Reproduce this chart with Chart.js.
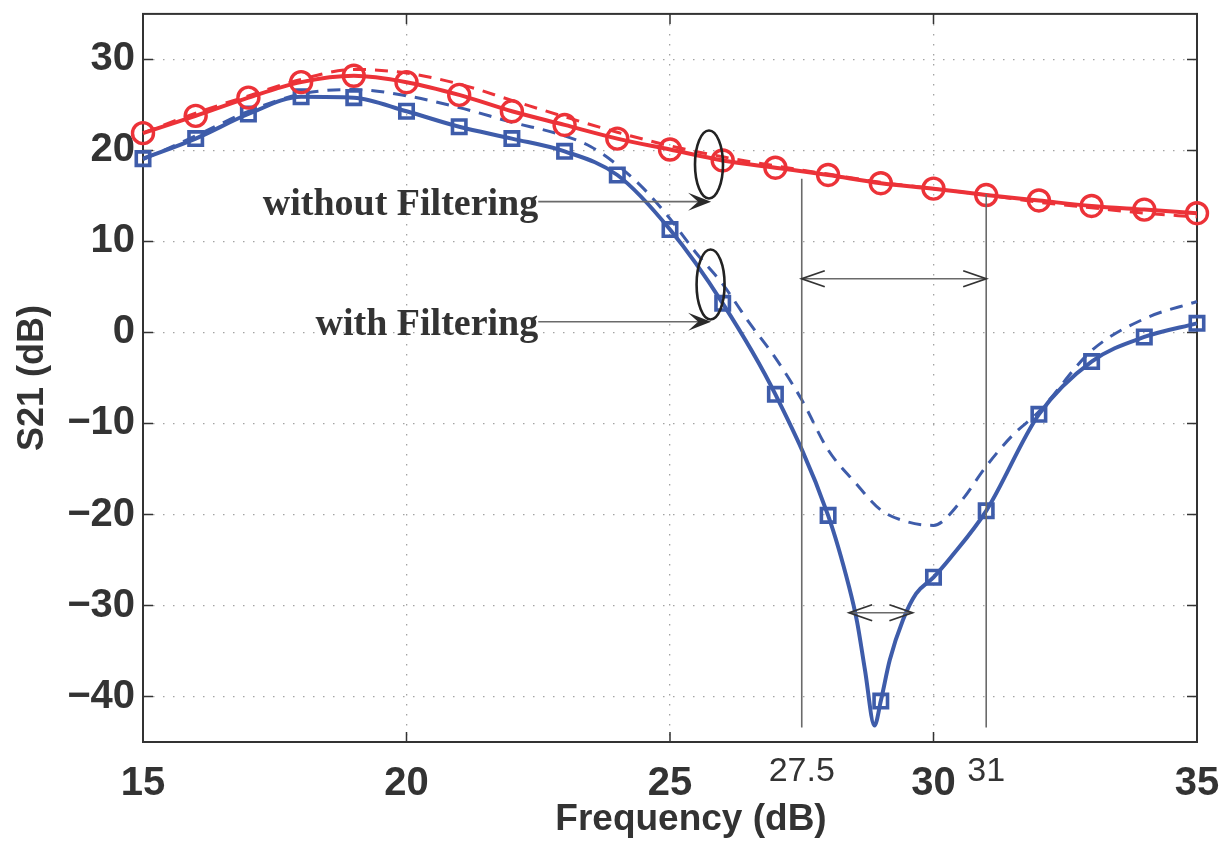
<!DOCTYPE html>
<html>
<head>
<meta charset="utf-8">
<title>S21 vs frequency</title>
<script src="https://cdn.jsdelivr.net/npm/chart.js@4.4.1/dist/chart.umd.min.js"></script>
<style>
  html, body { margin: 0; padding: 0; background: #fff; }
</style>
</head>
<body>
<canvas id="s21Chart" width="1224" height="845"></canvas>
<script>
// measured S21 (dB), one point per GHz -> these carry the markers
var freq = [15, 16, 17, 18, 19, 20, 21, 22, 23, 24, 25, 26, 27, 28, 29, 30, 31, 32, 33, 34, 35];
var s21With = [19.1, 21.3, 24.0, 25.9, 25.8, 24.3, 22.6, 21.3, 19.9, 17.3, 11.3, 3.2, -6.8, -20.1, -40.5, -26.9, -19.6, -9.0, -3.2, -0.5, 1.0];
var s21Without = [21.9, 23.8, 25.8, 27.5, 28.2, 27.5, 26.1, 24.3, 22.8, 21.3, 20.1, 18.9, 18.1, 17.3, 16.4, 15.8, 15.1, 14.5, 13.9, 13.5, 13.1];

// extra measured points around the notch (solid blue curve only)
var notchFreq = [28.4, 28.55, 28.7, 28.88, 29.17, 29.42, 29.67, 30.33];
var notchS21 = [-28.0, -31.8, -37.1, -43.2, -36.0, -31.6, -28.7, -24.7];

// simulated curves (dashed)
var simFreqWith = [15, 16, 17, 18, 19, 20, 21, 22, 23, 23.5, 24, 24.5, 25, 25.5, 26, 26.5, 27, 27.5, 28, 28.5, 29, 29.5, 30, 30.5, 31, 31.5, 32, 33, 34, 35];
var simWith = [19.0, 21.6, 24.3, 26.2, 26.7, 26.0, 24.7, 23.1, 21.6, 20.4, 18.4, 15.8, 12.5, 8.7, 5.3, 1.1, -2.8, -7.4, -12.9, -16.4, -19.5, -20.8, -21.2, -18.7, -14.7, -11.3, -8.7, -2.0, 1.5, 3.4];
var simWithout = [21.9, 24.1, 26.0, 27.8, 28.9, 28.5, 27.3, 25.5, 23.7, 22.0, 20.5, 19.3, 18.3, 17.4, 16.5, 15.8, 15.1, 14.3, 13.7, 13.1, 12.7];

// axis ticks
var xTicks = [15, 20, 25, 30, 35];
var yTicks = [-40, -30, -20, -10, 0, 10, 20, 30];

// bandwidth markers on the x axis
var bandEdges = [27.5, 31];
var bandLabels = ['27.5', '31'];

var RED = '#ec3238';
var BLUE = '#3e5caa';
var INK = '#333333';

function pts(xs, ys) {
  return xs.map(function (x, i) { return { x: x, y: ys[i] }; });
}

// solid blue = integer points + notch points, sorted by frequency
var withCurve = pts(freq, s21With).concat(pts(notchFreq, notchS21)).sort(function (a, b) { return a.x - b.x; });

var frame = {
  id: 'frame',
  beforeDatasetsDraw: function (chart) {
    var ctx = chart.ctx, a = chart.chartArea, x = chart.scales.x, y = chart.scales.y;
    ctx.save();
    ctx.strokeStyle = INK;
    ctx.lineWidth = 1.5;
    ctx.beginPath();
    y.ticks.forEach(function (t) {
      var py = y.getPixelForValue(t.value);
      ctx.moveTo(a.left, py); ctx.lineTo(a.left + 10, py);
      ctx.moveTo(a.right, py); ctx.lineTo(a.right - 10, py);
    });
    x.ticks.forEach(function (t) {
      var px = x.getPixelForValue(t.value);
      ctx.moveTo(px, a.bottom); ctx.lineTo(px, a.bottom - 10);
      ctx.moveTo(px, a.top); ctx.lineTo(px, a.top + 10);
    });
    ctx.stroke();
    ctx.lineWidth = 2;
    ctx.strokeRect(a.left, a.top, a.right - a.left, a.bottom - a.top);
    ctx.restore();
  }
};

function chevron(ctx, tx, ty, dir) {
  ctx.beginPath();
  ctx.moveTo(tx - dir * 23, ty - 8);
  ctx.lineTo(tx, ty);
  ctx.lineTo(tx - dir * 23, ty + 8);
  ctx.stroke();
}

function solidHead(ctx, tx, ty) {
  ctx.beginPath();
  ctx.moveTo(tx, ty);
  ctx.lineTo(tx - 23, ty - 9);
  ctx.lineTo(tx - 13, ty);
  ctx.lineTo(tx - 23, ty + 9);
  ctx.closePath();
  ctx.fill();
}

var notes = {
  id: 'notes',
  afterDatasetsDraw: function (chart) {
    var ctx = chart.ctx, a = chart.chartArea, x = chart.scales.x, y = chart.scales.y;
    var X = function (v) { return x.getPixelForValue(v); };
    var Y = function (v) { return y.getPixelForValue(v); };
    ctx.save();

    // vertical band edges
    ctx.strokeStyle = '#6a6a6a';
    ctx.lineWidth = 1.6;
    ctx.beginPath();
    ctx.moveTo(X(27.5), Y(16.9)); ctx.lineTo(X(27.5), Y(-43.4));
    ctx.moveTo(X(31), Y(15.2)); ctx.lineTo(X(31), Y(-43.4));
    ctx.stroke();

    // double-headed arrows: passband and notch width
    [[27.5, 31, 5.9], [28.4, 29.6, -30.8]].forEach(function (d) {
      var x1 = X(d[0]), x2 = X(d[1]), py = Y(d[2]);
      ctx.strokeStyle = '#6a6a6a';
      ctx.lineWidth = 1.6;
      ctx.beginPath(); ctx.moveTo(x1, py); ctx.lineTo(x2, py); ctx.stroke();
      ctx.strokeStyle = '#333';
      ctx.lineWidth = 1.8;
      chevron(ctx, x1, py, -1);
      chevron(ctx, x2, py, 1);
    });

    // ellipses grouping the curve pairs
    ctx.strokeStyle = '#222';
    ctx.lineWidth = 2.6;
    [[25.74, 18.46, 34], [25.77, 5.27, 35]].forEach(function (e) {
      ctx.beginPath();
      ctx.ellipse(X(e[0]), Y(e[1]), 14, e[2], 0, 0, Math.PI * 2);
      ctx.stroke();
    });

    // text labels with pointer arrows
    ctx.font = 'bold 38px "Liberation Serif", "Times New Roman", serif';
    ctx.textAlign = 'right';
    ctx.textBaseline = 'alphabetic';
    [['without Filtering', 14.37], ['with Filtering', 1.17]].forEach(function (l) {
      var py = Y(l[1]), x0 = X(22.5), x1 = X(25.78);
      ctx.fillStyle = INK;
      ctx.fillText(l[0], x0, py + 13);
      ctx.strokeStyle = '#6a6a6a';
      ctx.lineWidth = 1.6;
      ctx.beginPath(); ctx.moveTo(x0, py); ctx.lineTo(x1 - 12, py); ctx.stroke();
      ctx.fillStyle = '#2a2a2a';
      solidHead(ctx, x1, py);
    });

    // band edge values under the axis
    ctx.font = '34px "Liberation Sans", Arial, sans-serif';
    ctx.textAlign = 'center';
    ctx.textBaseline = 'middle';
    ctx.fillStyle = INK;
    bandEdges.forEach(function (f, i) {
      ctx.fillText(bandLabels[i], X(f), a.bottom + 30);
    });

    // x axis title
    ctx.font = 'bold 37px "Liberation Sans", Arial, sans-serif';
    ctx.textBaseline = 'alphabetic';
    ctx.fillText('Frequency (dB)', (a.left + a.right) / 2 + 21, 830);
    ctx.restore();
  }
};

var tickFont = { family: '"Liberation Sans", Arial, sans-serif', size: 40, weight: 'bold' };

// typographic minus on negative tick labels
function tickText(v) {
  return v < 0 ? '\u2212' + Math.abs(v) : String(v);
}

new Chart(document.getElementById('s21Chart'), {
  type: 'line',
  data: {
    datasets: [
      { data: pts(freq, s21Without), showLine: false, pointStyle: 'circle', pointRadius: 10.5, pointBorderWidth: 3.4,
        pointBorderColor: RED, pointBackgroundColor: 'rgba(0,0,0,0)', clip: false },
      { data: pts(freq, s21With), showLine: false, pointStyle: 'rect', pointRadius: 9.5, pointBorderWidth: 3.6,
        pointBorderColor: BLUE, pointBackgroundColor: 'rgba(0,0,0,0)', clip: false },
      { data: pts(freq, s21Without), borderColor: RED, borderWidth: 4, pointRadius: 0,
        cubicInterpolationMode: 'monotone', clip: false },
      { data: withCurve, borderColor: BLUE, borderWidth: 4, pointRadius: 0,
        cubicInterpolationMode: 'monotone', clip: false },
      { data: pts(freq, simWithout), borderColor: RED, borderWidth: 3, borderDash: [13, 9], pointRadius: 0,
        cubicInterpolationMode: 'monotone', clip: false },
      { data: pts(simFreqWith, simWith), borderColor: BLUE, borderWidth: 3, borderDash: [13, 9], pointRadius: 0,
        cubicInterpolationMode: 'monotone', clip: false }
    ]
  },
  options: {
    responsive: false,
    animation: false,
    layout: { padding: { top: 9, right: 27, left: 0, bottom: 0 } },
    plugins: { legend: { display: false }, tooltip: { enabled: false } },
    scales: {
      x: {
        type: 'linear', min: 15, max: 35,
        afterBuildTicks: function (s) { s.ticks = xTicks.map(function (v) { return { value: v }; }); },
        afterFit: function (s) { s.height = 103; s.paddingLeft = 0; s.paddingRight = 0; },
        ticks: { color: INK, font: tickFont, padding: 18, maxRotation: 0, callback: tickText },
        grid: { color: '#a3a3a3', lineWidth: 1.3, drawTicks: false },
        border: { display: false, dash: [1.5, 8.5] }
      },
      y: {
        min: -45, max: 35,
        afterBuildTicks: function (s) { s.ticks = yTicks.map(function (v) { return { value: v }; }); },
        afterFit: function (s) { s.width = 143; s.paddingTop = 0; s.paddingBottom = 0; },
        ticks: { color: INK, font: tickFont, padding: 8, callback: tickText },
        grid: { color: '#a3a3a3', lineWidth: 1.3, drawTicks: false },
        border: { display: false, dash: [1.5, 8.5] },
        title: { display: true, text: 'S21 (dB)', color: INK, padding: { top: 11, bottom: 0 },
          font: { family: '"Liberation Sans", Arial, sans-serif', size: 36, weight: 'bold' } }
      }
    }
  },
  plugins: [frame, notes]
});
</script>
</body>
</html>
